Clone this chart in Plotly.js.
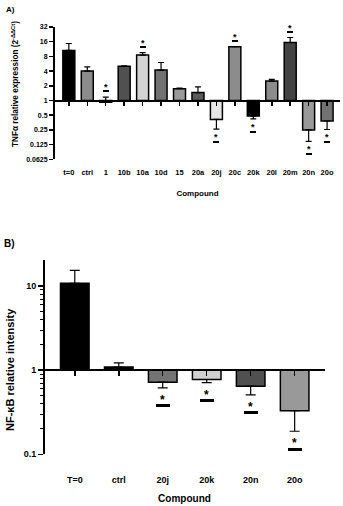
<!DOCTYPE html>
<html>
<head>
<meta charset="utf-8">
<script src="https://cdn.plot.ly/plotly-3.0.1.min.js"></script>
<style>
  html, body { margin: 0; padding: 0; background: #fff; }
  #chart { width: 343px; height: 506px; }
</style>
</head>
<body>
<div id="chart"></div>
<script>
// Panel A: TNFa relative expression
const catsA = ['t=0', 'ctrl', '1', '10b', '10a', '10d', '15', '20a', '20j', '20c', '20k', '20l', '20m', '20n', '20o'];
const valsA = [10.6, 4.0, 0.92, 5.0, 8.5, 4.2, 1.75, 1.45, 0.41, 12.6, 0.48, 2.5, 15.4, 0.25, 0.38];
const errUpA = [4.1, 0.9, 0.25, 0.15, 1.1, 1.8, 0.05, 0.45, 0, 0, 0, 0.2, 4.1, 0, 0];
const errDownA = [0, 0, 0, 0, 0, 0, 0, 0, 0.15, 0, 0.06, 0, 0, 0.105, 0.125];
const sigA = [0, 0, 1, 0, 1, 0, 0, 0, 1, 1, 1, 0, 1, 1, 1];
const colorsA = ['#000000', '#8c8c8c', '#a8a8a8', '#505050', '#d2d2d2', '#717171', '#9a9a9a', '#5a5a5a',
                 '#e6e6e6', '#8c8c8c', '#000000', '#8c8c8c', '#444444', '#999999', '#727272'];
const ticksA = [0.0625, 0.125, 0.25, 0.5, 1, 2, 4, 8, 16, 32];

// Panel B: NF-kB relative intensity
const catsB = ['T=0', 'ctrl', '20j', '20k', '20n', '20o'];
const valsB = [10.8, 1.09, 0.72, 0.775, 0.645, 0.33];
const errUpB = [4.6, 0.13, 0, 0, 0, 0];
const errDownB = [0, 0, 0.105, 0.065, 0.135, 0.142];
const sigB = [0, 0, 1, 1, 1, 1];
const colorsB = ['#000000', '#000000', '#747474', '#d0d0d0', '#505050', '#999999'];
const ticksB = [0.1, 1, 10];
const minorB = [0.2, 0.3, 0.4, 0.5, 0.6, 0.7, 0.8, 0.9, 2, 3, 4, 5, 6, 7, 8, 9];

const FONT = 'Liberation Sans, Arial, sans-serif';

function barTrace(cats, vals, up, down, colors, xa, ya, capw) {
    return {
        type: 'bar',
        x: cats,
        y: vals.map(v => v - 1),
        base: 1,
        width: 0.65,
        xaxis: xa,
        yaxis: ya,
        marker: { color: colors, line: { color: '#000', width: 1.5 } },
        error_y: {
            type: 'data', symmetric: false,
            array: up, arrayminus: down,
            color: '#000', thickness: 1.2, width: capw
        },
        hoverinfo: 'skip',
        showlegend: false
    };
}

// asterisk with a short bar under it, placed past the end of the error bar
const annotations = [];
function sigMarks(vals, up, down, sig, xa, ya, o) {
    vals.forEach((v, i) => {
        if (!sig[i]) return;
        const below = v < 1 && up[i] === 0;
        const y = Math.log10(below ? v - down[i] : v + up[i]);
        annotations.push({
            xref: xa, yref: ya, x: i, y: y, yshift: below ? -o.astNeg : o.astPos,
            text: '*', showarrow: false,
            font: { family: FONT, size: o.astSize, color: '#000000', weight: 'bold' }
        });
        annotations.push({
            xref: xa, yref: ya, x: i, y: y, yshift: below ? -o.dashNeg : o.dashPos,
            text: ' ', showarrow: false, width: o.dashW, height: o.dashH,
            bgcolor: '#000', borderpad: 0, borderwidth: 0, font: { size: 1 }
        });
    });
}

sigMarks(valsA, errUpA, errDownA, sigA, 'x', 'y',
    { astPos: 10, dashPos: 6, astNeg: 8, dashNeg: 13, astSize: 9, dashW: 6, dashH: 2 });
sigMarks(valsB, errUpB, errDownB, sigB, 'x2', 'y2',
    { astPos: 12, dashPos: 6, astNeg: 12, dashNeg: 18, astSize: 12, dashW: 14, dashH: 3 });

annotations.push(
    { xref: 'paper', yref: 'paper', x: 4 / 343, y: 1 - 10 / 506, xanchor: 'left', yanchor: 'middle',
      text: 'A)', showarrow: false, font: { family: FONT, size: 8, weight: 'bold', color: '#000' } },
    { xref: 'paper', yref: 'paper', x: 2 / 343, y: 1 - 243 / 506, xanchor: 'left', yanchor: 'middle',
      text: 'B)', showarrow: false, font: { family: FONT, size: 10, weight: 'bold', color: '#000' } },
    // y-axis titles
    { xref: 'paper', yref: 'paper', x: 15 / 343, y: 1 - 84 / 506, xanchor: 'center', yanchor: 'middle',
      textangle: -90, showarrow: false,
      text: 'TNF\u03b1 relative expression (2<sup>-\u0394\u0394Ct</sup>)',
      font: { family: FONT, size: 8.2, weight: 'bold', color: '#000' } },
    { xref: 'paper', yref: 'paper', x: 10 / 343, y: 1 - 370 / 506, xanchor: 'center', yanchor: 'middle',
      textangle: -90, showarrow: false,
      text: 'NF-\u03baB relative intensity',
      font: { family: FONT, size: 11, weight: 'bold', color: '#000' } }
);

const data = [
    barTrace(catsA, valsA, errUpA, errDownA, colorsA, 'x', 'y', 3),
    barTrace(catsB, valsB, errUpB, errDownB, colorsB, 'x2', 'y2', 5)
];

const layout = {
    width: 343,
    height: 506,
    margin: { l: 0, r: 0, t: 0, b: 0 },
    paper_bgcolor: '#fff',
    plot_bgcolor: 'rgba(0,0,0,0)',
    font: { family: FONT, color: '#000', weight: 'bold' },
    showlegend: false,
    xaxis: {
        type: 'category', categoryarray: catsA, range: [-0.75, 14.7],
        domain: [55 / 343, 340 / 343],
        anchor: 'free', position: 1 - 100 / 506,
        showline: true, linewidth: 1.5, linecolor: '#000',
        ticks: 'outside', ticklen: 4, tickwidth: 1.5, tickcolor: '#000',
        ticklabelstandoff: 60,
        tickfont: { size: 7.5, family: FONT, weight: 'bold' },
        showgrid: false, zeroline: false,
        title: { text: 'Compound', standoff: 15, font: { size: 8, family: FONT, weight: 'bold' } }
    },
    yaxis: {
        type: 'log', range: [Math.log10(0.0625), Math.log10(32)],
        domain: [1 - 159.3 / 506, 1 - 27 / 506],
        anchor: 'free', position: 53 / 343,
        showline: true, linewidth: 1.5, linecolor: '#000',
        tickmode: 'array', tickvals: ticksA, ticktext: ticksA.map(String),
        ticks: 'outside', ticklen: 4, tickwidth: 1.5, tickcolor: '#000',
        tickfont: { size: 7, family: FONT, weight: 'bold' },
        showgrid: false, zeroline: false
    },
    xaxis2: {
        type: 'category', categoryarray: catsB, range: [-0.7, 5.69],
        domain: [44 / 343, 325 / 343],
        anchor: 'free', position: 1 - 370 / 506,
        showline: true, linewidth: 2, linecolor: '#000',
        ticks: 'outside', ticklen: 5, tickwidth: 1.5, tickcolor: '#000',
        ticklabelstandoff: 96,
        tickfont: { size: 9, family: FONT, weight: 'bold' },
        showgrid: false, zeroline: false,
        title: { text: 'Compound', standoff: 10, font: { size: 10, family: FONT, weight: 'bold' } }
    },
    yaxis2: {
        type: 'log', range: [-1, 1.31],
        domain: [1 - 454.3 / 506, 1 - 260 / 506],
        anchor: 'free', position: 44 / 343,
        showline: true, linewidth: 2, linecolor: '#000',
        tickmode: 'array', tickvals: ticksB, ticktext: ticksB.map(String),
        ticks: 'outside', ticklen: 5, tickwidth: 1.5, tickcolor: '#000',
        minor: { tickmode: 'array', tickvals: minorB, ticks: 'outside', ticklen: 3, tickwidth: 1, tickcolor: '#000', showgrid: false },
        tickfont: { size: 9, family: FONT, weight: 'bold' },
        showgrid: false, zeroline: false
    },
    annotations: annotations
};

Plotly.newPlot('chart', data, layout, { staticPlot: true, displayModeBar: false });
</script>
</body>
</html>
